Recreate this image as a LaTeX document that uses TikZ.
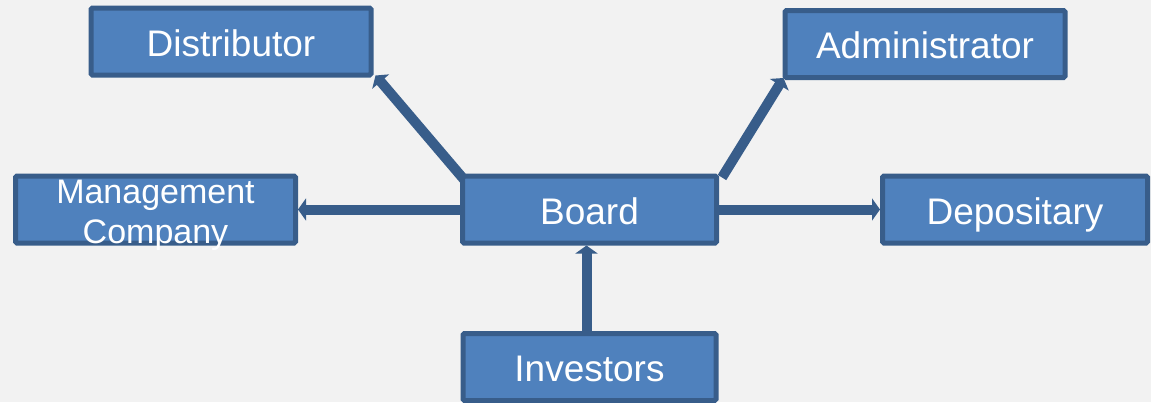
\documentclass[tikz,border=0pt]{standalone}
\usepackage{fontspec}
\setmainfont{Liberation Sans}
\usetikzlibrary{arrows.meta,calc}
\definecolor{bgc}{HTML}{F2F2F2}
\definecolor{boxfill}{HTML}{4F81BD}
\definecolor{boxline}{HTML}{385D8A}
\begin{document}
\begin{tikzpicture}[x=1pt,y=-1pt,
  box/.style={draw=boxline,fill=boxfill,line width=5pt,rounded corners=1.5pt,
    minimum height=67pt,inner sep=0pt,text=white,text height=29pt,text depth=0pt,
    font=\fontsize{37}{39}\selectfont},
  conn/.style={draw=boxline,line width=10pt,
    -{Triangle[length=8pt,width=22pt]}}]
\fill[bgc] (0,0) rectangle (1151,402);
\useasboundingbox (0,0) rectangle (1151,402);
\node[box,minimum width=280pt] (dist) at (231,41.5) {Distributor};
\node[box,minimum width=280pt] (admin) at (925,44) {Administrator};
\node[box,minimum width=280pt,font=\fontsize{34}{40}\selectfont] (mgmt) at (155.5,209.5) {\smash{\raisebox{2pt}{\begin{tabular}{@{}c@{}}Management\\[0pt]Company\end{tabular}}}};
\node[box,minimum width=254pt] (board) at (589.5,209.5) {Board};
\node[box,minimum width=265pt] (dep) at (1015,209.5) {Depositary};
\node[box,minimum width=253pt] (inv) at (589.5,367) {Investors};
\draw[conn] ($(board.north west)+(4,6)$) -- ($(dist.south east)+(2,-2)$);
\draw[conn] ($(board.north east)+(3,4)$) -- ($(admin.south west)+(1,-2)$);
\draw[conn] (board.west) -- (mgmt.east);
\draw[conn] (board.east) -- (dep.west);
\draw[conn] ($(inv.north)+(-3,0)$) -- ($(board.south)+(-3,0)$);
\end{tikzpicture}
\end{document}
